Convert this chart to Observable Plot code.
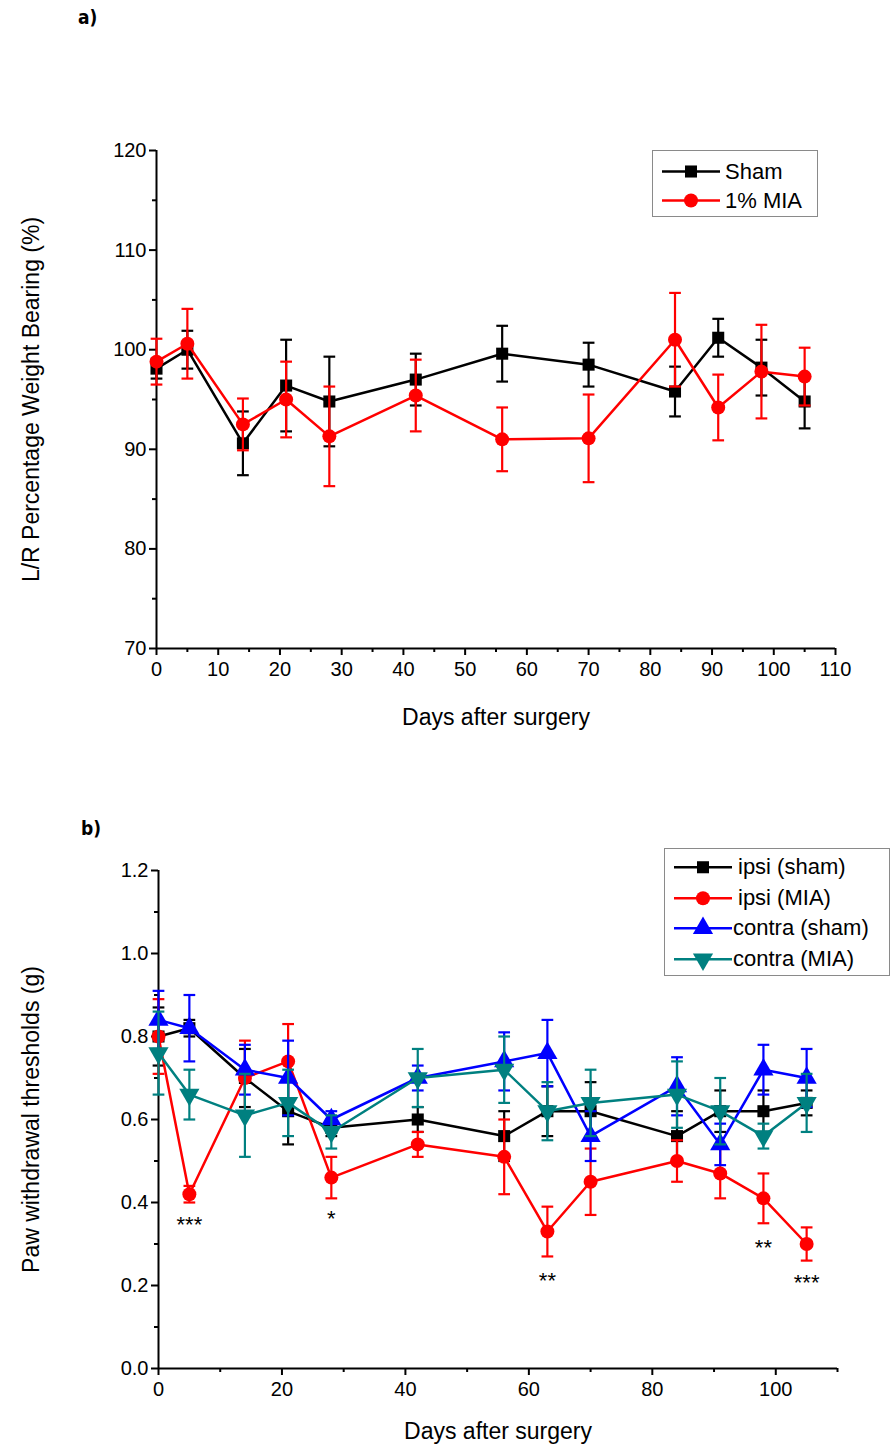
<!DOCTYPE html>
<html>
<head>
<meta charset="utf-8">
<script src="https://cdn.jsdelivr.net/npm/d3@7"></script>
<script src="https://cdn.jsdelivr.net/npm/@observablehq/plot@0.6"></script>
<style>
  body { margin: 0; background: #ffffff; }
  #root { position: relative; width: 891px; height: 1448px; overflow: hidden; font-family: 'Liberation Sans', Arial, sans-serif; }
  .plabel { position: absolute; font-family: 'DejaVu Sans Condensed', 'DejaVu Sans', sans-serif; font-weight: bold; font-size: 19px; color: #000; }
  .legend { position: absolute; border: 1px solid #8a8a8a; background: #fff; box-sizing: border-box; padding: 0 0 0 8px; }
  .lrow { display: flex; align-items: center; font-size: 22px; line-height: 1; color: #000; }
  .pane { position: absolute; left: 0; }
</style>
</head>
<body>
<div id="root">
  <div class="plabel" style="left:78px;top:6px">a)</div>
  <div class="plabel" style="left:81px;top:817px">b)</div>
  <div id="pa" class="pane" style="top:0px"></div>
  <div id="pb" class="pane" style="top:780px"></div>
</div>
<script>
// ---------- Panel a data ----------
const daysA = [0, 5, 14, 21, 28, 42, 56, 70, 84, 91, 98, 105];
const shamMean = [98.1, 100.0, 90.6, 96.4, 94.8, 97.0, 99.6, 98.5, 95.8, 101.2, 98.2, 94.8];
const shamErr  = [1.0, 1.9, 3.2, 4.6, 4.5, 2.6, 2.8, 2.2, 2.5, 1.9, 2.8, 2.7];
const miaMean  = [98.8, 100.6, 92.5, 95.0, 91.3, 95.4, 91.0, 91.1, 101.0, 94.2, 97.8, 97.3];
const miaErr   = [2.3, 3.5, 2.6, 3.8, 5.0, 3.6, 3.2, 4.4, 4.7, 3.3, 4.7, 2.9];
const seriesA = ["Sham", "1% MIA"];

// ---------- Panel b data ----------
const daysB = [0, 5, 14, 21, 28, 42, 56, 63, 70, 84, 91, 98, 105];
const ipsiSham     = [0.80, 0.82, 0.70, 0.62, 0.58, 0.60, 0.56, 0.62, 0.62, 0.56, 0.62, 0.62, 0.64];
const ipsiShamErr  = [0.07, 0.02, 0.07, 0.08, 0.02, 0.03, 0.06, 0.06, 0.07, 0.06, 0.05, 0.05, 0.03];
const ipsiMia      = [0.80, 0.42, 0.70, 0.74, 0.46, 0.54, 0.51, 0.33, 0.45, 0.50, 0.47, 0.41, 0.30];
const ipsiMiaErr   = [0.09, 0.02, 0.09, 0.09, 0.05, 0.03, 0.09, 0.06, 0.08, 0.05, 0.06, 0.06, 0.04];
const contraSham   = [0.84, 0.82, 0.72, 0.70, 0.60, 0.70, 0.74, 0.76, 0.56, 0.68, 0.54, 0.72, 0.70];
const contraShamErr= [0.07, 0.08, 0.06, 0.09, 0.02, 0.03, 0.07, 0.08, 0.06, 0.07, 0.05, 0.06, 0.07];
const contraMia    = [0.76, 0.66, 0.61, 0.64, 0.57, 0.70, 0.72, 0.62, 0.64, 0.66, 0.62, 0.56, 0.64];
const contraMiaErr = [0.10, 0.06, 0.10, 0.08, 0.04, 0.07, 0.08, 0.07, 0.08, 0.08, 0.08, 0.03, 0.07];
const seriesB = ["ipsi (sham)", "ipsi (MIA)", "contra (sham)", "contra (MIA)"];

// significance marks
const starDays   = [5, 28, 63, 98, 105];
const starLabels = ["***", "*", "**", "**", "***"];
const starY      = [0.345, 0.36, 0.21, 0.29, 0.205];

// axis ticks
const ticksAY = [70, 80, 90, 100, 110, 120];
const minorAY = [75, 85, 95, 105, 115];
const ticksAX = [0, 10, 20, 30, 40, 50, 60, 70, 80, 90, 100, 110];
const minorAX = [5, 15, 25, 35, 45, 55, 65, 75, 85, 95, 105];
const ticksBY = [0, 0.2, 0.4, 0.6, 0.8, 1.0, 1.2];
const minorBY = [0.1, 0.3, 0.5, 0.7, 0.9, 1.1];
const ticksBX = [0, 20, 40, 60, 80, 100];
const minorBX = [10, 30, 50, 70, 90, 110];

// styles
const FONT = "'Liberation Sans', Arial, sans-serif";
const styleMap = {
  "Sham": {color: "#000000", symbol: "square", r: 6.8, rotate: 0},
  "1% MIA": {color: "#ff0000", symbol: "circle", r: 7, rotate: 0},
  "ipsi (sham)": {color: "#000000", symbol: "square", r: 6.8, rotate: 0},
  "ipsi (MIA)": {color: "#ff0000", symbol: "circle", r: 7, rotate: 0},
  "contra (sham)": {color: "#0000ff", symbol: "triangle", r: 7.5, rotate: 0},
  "contra (MIA)": {color: "#008080", symbol: "triangle", r: 7.5, rotate: 180}
};

function rows(days, mean, err, series) {
  return days.map((d, i) => ({day: d, v: mean[i], e: err[i], s: series}));
}

function seriesMarks(data, name, capHalf) {
  const st = styleMap[name];
  return [
    Plot.ruleX(data, {x: "day", y1: d => d.v - d.e, y2: d => d.v + d.e, stroke: st.color, strokeWidth: 2.2}),
    Plot.link(data, {x1: d => d.day - capHalf, x2: d => d.day + capHalf, y1: d => d.v + d.e, y2: d => d.v + d.e, stroke: st.color, strokeWidth: 2.2}),
    Plot.link(data, {x1: d => d.day - capHalf, x2: d => d.day + capHalf, y1: d => d.v - d.e, y2: d => d.v - d.e, stroke: st.color, strokeWidth: 2.2}),
    Plot.line(data, {x: "day", y: "v", stroke: st.color, strokeWidth: 2.5}),
    Plot.dot(data, {x: "day", y: "v", symbol: st.symbol, r: st.r, fill: st.color, stroke: "none", rotate: st.rotate})
  ];
}

function axisMarks(xt, xm, yt, ym, yFmt) {
  return [
    Plot.axisY(yt, {tickSize: 7, tickPadding: 3, fontSize: 20, strokeWidth: 2, label: null, tickFormat: yFmt}),
    Plot.axisY(ym, {tickSize: 4, strokeWidth: 2, label: null, tickFormat: () => ""}),
    Plot.axisX(xt, {tickSize: 7, tickPadding: 6, fontSize: 20, strokeWidth: 2, label: null}),
    Plot.axisX(xm, {tickSize: 4, strokeWidth: 2, label: null, tickFormat: () => ""})
  ];
}

// ---------- Panel a ----------
const dataSham = rows(daysA, shamMean, shamErr, seriesA[0]);
const dataMia = rows(daysA, miaMean, miaErr, seriesA[1]);

const plotA = Plot.plot({
  width: 891, height: 760,
  marginTop: 150, marginBottom: 112, marginLeft: 156, marginRight: 56,
  style: {fontFamily: FONT, fontSize: "20px", color: "#000", background: "transparent", overflow: "visible"},
  x: {domain: [0, 110]},
  y: {domain: [70, 120]},
  marks: [
    ...axisMarks(ticksAX, minorAX, ticksAY, minorAY, d => d),
    Plot.ruleY([70], {stroke: "#000", strokeWidth: 2}),
    Plot.ruleX([0], {stroke: "#000", strokeWidth: 2}),
    ...seriesMarks(dataSham, "Sham", 0.95),
    ...seriesMarks(dataMia, "1% MIA", 0.95),
    Plot.text(["Days after surgery"], {frameAnchor: "bottom", dy: 76, fontSize: 23, fill: "#000"}),
    Plot.text(["L/R Percentage Weight Bearing (%)"], {frameAnchor: "left", textAnchor: "middle", dx: -125, rotate: -90, fontSize: 23, fill: "#000"})
  ]
});
document.getElementById("pa").appendChild(plotA);

// ---------- Panel b ----------
const bData = [
  rows(daysB, ipsiSham, ipsiShamErr, seriesB[0]),
  rows(daysB, ipsiMia, ipsiMiaErr, seriesB[1]),
  rows(daysB, contraSham, contraShamErr, seriesB[2]),
  rows(daysB, contraMia, contraMiaErr, seriesB[3])
];
const stars = starDays.map((d, i) => ({day: d, y: starY[i], t: starLabels[i]}));

const plotB = Plot.plot({
  width: 891, height: 668,
  marginTop: 90, marginBottom: 80, marginLeft: 158, marginRight: 54,
  style: {fontFamily: FONT, fontSize: "20px", color: "#000", background: "transparent", overflow: "visible"},
  x: {domain: [0, 110]},
  y: {domain: [0, 1.2]},
  marks: [
    ...axisMarks(ticksBX, minorBX, ticksBY, minorBY, d3.format(".1f")),
    Plot.ruleY([0], {stroke: "#000", strokeWidth: 2}),
    Plot.ruleX([0], {stroke: "#000", strokeWidth: 2}),
    ...bData.flatMap((d, i) => seriesMarks(d, seriesB[i], 0.95)),
    Plot.text(stars, {x: "day", y: "y", text: "t", fontSize: 22, fill: "#000"}),
    Plot.text(["Days after surgery"], {frameAnchor: "bottom", dy: 70, fontSize: 23, fill: "#000"}),
    Plot.text(["Paw withdrawal thresholds (g)"], {frameAnchor: "left", textAnchor: "middle", dx: -127, rotate: -90, fontSize: 23, fill: "#000"})
  ]
});
document.getElementById("pb").appendChild(plotB);

// ---------- Legends ----------
function symbolPath(name) {
  const st = styleMap[name];
  const type = {square: d3.symbolSquare, circle: d3.symbolCircle, triangle: d3.symbolTriangle}[st.symbol];
  return d3.symbol(type, Math.PI * st.r * st.r)();
}
function legend(names, left, top, width, height, rowH, padTop, textOffsets) {
  const box = document.createElement("div");
  box.className = "legend";
  Object.assign(box.style, {left: left + "px", top: top + "px", width: width + "px", height: height + "px", paddingTop: padTop + "px"});
  names.forEach((n, i) => {
    const st = styleMap[n];
    const row = document.createElement("div");
    row.className = "lrow";
    row.style.height = rowH + "px";
    const svg = d3.create("svg").attr("width", 60).attr("height", rowH);
    svg.append("line").attr("x1", 1).attr("x2", 59).attr("y1", rowH / 2).attr("y2", rowH / 2)
      .attr("stroke", st.color).attr("stroke-width", 2.5);
    svg.append("path").attr("d", symbolPath(n))
      .attr("transform", `translate(30,${rowH / 2}) rotate(${st.rotate})`).attr("fill", st.color);
    row.appendChild(svg.node());
    const span = document.createElement("span");
    span.textContent = n;
    span.style.marginLeft = (textOffsets ? textOffsets[i] : 4) + "px";
    row.appendChild(span);
    box.appendChild(row);
  });
  document.getElementById("root").appendChild(box);
}
legend(seriesA, 652, 150, 166, 67, 29, 6, [4, 4]);
legend(seriesB, 664, 848, 226, 128, 30.5, 3, [5, 5, 0, 0]);
</script>
</body>
</html>
